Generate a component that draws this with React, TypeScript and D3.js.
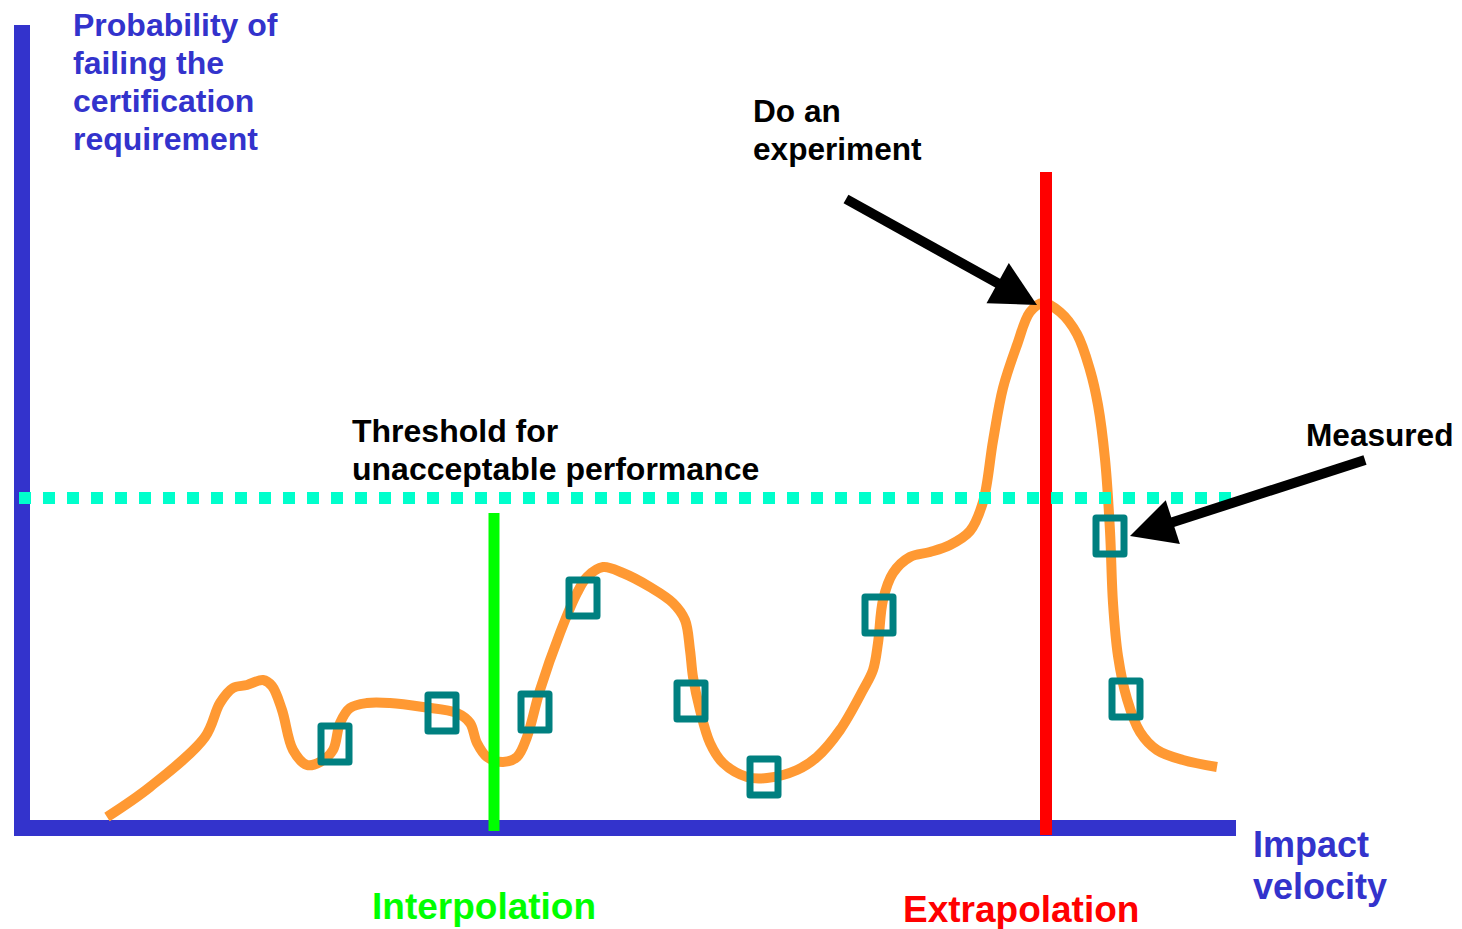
import React from "react";
import * as d3 from "d3";

// ---- data (abstract units: velocity along x, probability along y) ----
const curveVelocity = [85, 128, 183, 198, 211, 225, 241, 250, 260, 271, 285, 298, 311, 318, 328, 345, 368, 401, 435, 448, 455, 465, 481, 495, 505, 518, 538, 555, 565, 581, 601, 628, 651, 663, 668, 671, 678, 688, 701, 725, 745, 775, 795, 818, 841, 851, 856, 861, 871, 888, 908, 928, 948, 961, 971, 981, 995, 1008, 1021, 1038, 1055, 1068, 1076, 1083, 1088, 1091, 1096, 1105, 1118, 1135, 1161, 1195];
const curveProbability = [11, 41, 91, 125, 140, 143, 148, 142, 118, 78, 63, 66, 78, 105, 120, 125, 125, 121, 115, 105, 85, 71, 66, 71, 91, 138, 195, 235, 251, 261, 255, 241, 225, 208, 178, 151, 118, 85, 65, 51, 50, 58, 71, 98, 138, 158, 185, 228, 255, 271, 276, 283, 297, 326, 387, 440, 483, 516, 525, 516, 494, 458, 423, 369, 297, 225, 172, 129, 96, 78, 68, 61];

const measuredVelocity = [313, 420, 513, 561, 669, 742, 857, 1088, 1104];
const measuredProbability = [84, 115, 116, 230, 127, 51, 213, 292, 129];

const thresholdProbability = 330;
const interpolationVelocity = 472;
const interpolationTop = 315;
const extrapolationVelocity = 1024;
const extrapolationTop = 656;

// arrows: [fromV, fromP, toV, toP]
const arrowExperiment = [824, 629, 1015, 523];
const arrowMeasured = [1343, 368, 1108, 292];

const xDomain = [0, 1214];
const yDomain = [0, 802];

const yTitleLines = ["Probability of", "failing the", "certification", "requirement"];
const xTitleLines = ["Impact", "velocity"];
const experimentLines = ["Do an", "experiment"];
const thresholdLines = ["Threshold for", "unacceptable performance"];

const BLUE = "#3333CC";
const ORANGE = "#FF9933";
const TEAL = "#008080";
const CYAN = "#00FFCC";
const GREEN = "#00FF00";
const RED = "#FF0000";
const FONT = "'Liberation Sans', Arial, Helvetica, sans-serif";

const W = 1462;
const H = 929;

function arrowPath(x1: number, y1: number, x2: number, y2: number, headLen: number, headHalf: number) {
  const dx = x2 - x1;
  const dy = y2 - y1;
  const len = Math.sqrt(dx * dx + dy * dy);
  const ux = dx / len;
  const uy = dy / len;
  const px = -uy;
  const py = ux;
  const bx = x2 - ux * headLen;
  const by = y2 - uy * headLen;
  return {
    shaft: { x1, y1, x2: bx + ux * 2, y2: by + uy * 2 },
    head: `M${x2},${y2}L${bx + px * headHalf},${by + py * headHalf}L${bx - px * headHalf},${by - py * headHalf}Z`,
  };
}

export default function App() {
  const x = d3.scaleLinear().domain(xDomain).range([22, 1236]);
  const y = d3.scaleLinear().domain(yDomain).range([828, 26]);

  const pts: [number, number][] = curveVelocity.map((v, i) => [x(v), y(curveProbability[i])]);
  const line = d3.line().curve(d3.curveCatmullRom.alpha(0.5));
  const curveD = line(pts) || "";

  const a1 = arrowPath(x(arrowExperiment[0]), y(arrowExperiment[1]), x(arrowExperiment[2]), y(arrowExperiment[3]), 45, 23);
  const a2 = arrowPath(x(arrowMeasured[0]), y(arrowMeasured[1]), x(arrowMeasured[2]), y(arrowMeasured[3]), 45, 23);

  const boldText = { fontFamily: FONT, fontWeight: 700 } as const;

  return (
    <svg width={W} height={H} style={{ position: "absolute", left: 0, top: 0, background: "#fff" }}>
      {/* axes */}
      <line x1={22} x2={22} y1={y(yDomain[1]) - 1} y2={836} stroke={BLUE} strokeWidth={16} />
      <line x1={x(xDomain[0])} x2={x(xDomain[1])} y1={828} y2={828} stroke={BLUE} strokeWidth={16} />

      {/* curve */}
      <path d={curveD} fill="none" stroke={ORANGE} strokeWidth={10} strokeLinejoin="round" />

      {/* extrapolation / interpolation lines */}
      <line x1={x(extrapolationVelocity)} x2={x(extrapolationVelocity)} y1={y(extrapolationTop)} y2={835} stroke={RED} strokeWidth={12} />
      <line x1={x(interpolationVelocity)} x2={x(interpolationVelocity)} y1={y(interpolationTop)} y2={831} stroke={GREEN} strokeWidth={11} />

      {/* threshold */}
      <line x1={19} x2={1242} y1={y(thresholdProbability)} y2={y(thresholdProbability)} stroke={CYAN} strokeWidth={12} strokeDasharray="12,12" />

      {/* measured points */}
      {measuredVelocity.map((v, i) => (
        <rect
          key={i}
          x={x(v) - 14}
          y={y(measuredProbability[i]) - 18}
          width={28}
          height={36}
          fill="none"
          stroke={TEAL}
          strokeWidth={7}
          strokeLinejoin="round"
        />
      ))}

      {/* arrows */}
      {[a1, a2].map((a, i) => (
        <g key={i}>
          <line x1={a.shaft.x1} y1={a.shaft.y1} x2={a.shaft.x2} y2={a.shaft.y2} stroke="#000" strokeWidth={10} />
          <path d={a.head} fill="#000" />
        </g>
      ))}

      {/* texts */}
      <text {...boldText} fontSize={32} fill={BLUE}>
        {yTitleLines.map((t, i) => (
          <tspan key={i} x={73} y={36 + i * 38}>{t}</tspan>
        ))}
      </text>
      <text {...boldText} fontSize={36} fill={BLUE}>
        {xTitleLines.map((t, i) => (
          <tspan key={i} x={1253} y={857 + i * 42}>{t}</tspan>
        ))}
      </text>
      <text {...boldText} fontSize={31.6} fill="#000">
        {experimentLines.map((t, i) => (
          <tspan key={i} x={753} y={122 + i * 38}>{t}</tspan>
        ))}
      </text>
      <text {...boldText} fontSize={32} fill="#000">
        {thresholdLines.map((t, i) => (
          <tspan key={i} x={352} y={442 + i * 38}>{t}</tspan>
        ))}
      </text>
      <text {...boldText} fontSize={31.6} fill="#000" x={1306} y={446}>Measured</text>
      <text {...boldText} fontSize={37} fill={GREEN} x={372} y={919}>Interpolation</text>
      <text {...boldText} fontSize={37} fill={RED} x={903} y={922}>Extrapolation</text>
    </svg>
  );
}
